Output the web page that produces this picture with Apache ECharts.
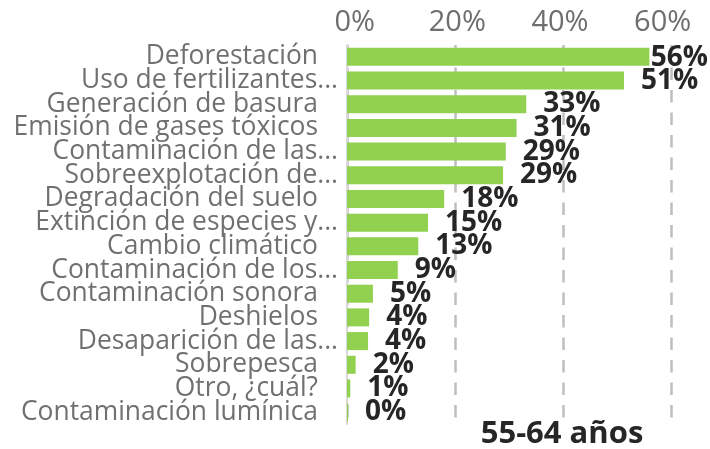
<!DOCTYPE html>
<html>
<head>
<meta charset="utf-8">
<script src="https://cdn.jsdelivr.net/npm/echarts@6/dist/echarts.min.js"></script>
<style>
html,body{margin:0;padding:0;background:#fff;}
#chart{width:710px;height:449px;}
</style>
</head>
<body>
<div id="chart"></div>
<script>
var categories = [
  "Deforestación",
  "Uso de fertilizantes...",
  "Generación de basura",
  "Emisión de gases tóxicos",
  "Contaminación de las...",
  "Sobreexplotación de...",
  "Degradación del suelo",
  "Extinción de especies y...",
  "Cambio climático",
  "Contaminación de los...",
  "Contaminación sonora",
  "Deshielos",
  "Desaparición de las...",
  "Sobrepesca",
  "Otro, ¿cuál?",
  "Contaminación lumínica"
];
var values = [56.0, 51.3, 33.2, 31.4, 29.4, 28.9, 18.0, 15.0, 13.2, 9.4, 4.8, 4.1, 3.9, 1.6, 0.6, 0.2];
var tickValues = [0, 20, 40, 60];
var seriesTitle = "55-64 años";

var FONT = "'Open Sans', 'Noto Sans', sans-serif";
var chart = echarts.init(document.getElementById('chart'), null, {renderer: 'canvas'});
chart.setOption({
  animation: false,
  backgroundColor: '#ffffff',
  title: {
    text: seriesTitle,
    left: 562,
    top: 419,
    padding: 0,
    textAlign: 'center',
    textStyle: {fontFamily: FONT, fontSize: 31, fontWeight: 'bold', color: '#262626'}
  },
  grid: {left: 347, right: 39, top: 45, bottom: 25, containLabel: false},
  xAxis: [{
    type: 'value',
    position: 'top',
    min: 0, max: 60, interval: 20,
    axisLine: {show: false},
    axisTick: {show: false},
    axisLabel: {show: false},
    splitLine: {show: true, lineStyle: {color: '#bfbfbf', width: 2.5, type: [12.5, 10]}}
  }, {
    type: 'value',
    position: 'top',
    min: -1.5, max: 61.62,
    axisLine: {show: false},
    axisTick: {show: false},
    splitLine: {show: false},
    axisLabel: {
      show: true,
      customValues: tickValues,
      margin: 8,
      fontFamily: FONT, fontSize: 29, color: '#6e6e6e',
      formatter: function (v) { return v + '%'; }
    }
  }],
  yAxis: {
    type: 'category',
    data: categories,
    inverse: true,
    axisLine: {show: true, lineStyle: {color: '#d9d9d9', width: 2}},
    axisTick: {show: false},
    splitLine: {show: false},
    axisLabel: {
      interval: 0,
      margin: 9,
      fontFamily: FONT, fontSize: 26.4, color: '#707070',
      formatter: function (v) {
        return /\.\.\.$/.test(v) ? '{t|' + v + '}' : '{p|' + v + '}';
      },
      rich: {
        t: {fontFamily: FONT, fontSize: 26.4, color: '#707070'},
        p: {fontFamily: FONT, fontSize: 26.4, color: '#707070', padding: [0, 20, 0, 0]}
      }
    }
  },
  series: [{
    type: 'bar',
    xAxisIndex: 0,
    data: values,
    barCategoryGap: '24%',
    itemStyle: {color: '#92d050'},
    label: {
      show: true,
      position: 'right',
      distance: 17,
      offset: [0, 2.5],
      fontFamily: FONT, fontSize: 28, fontWeight: 'bold', color: '#262626',
      formatter: function (p) { return Math.round(p.value) + '%'; }
    }
  }],
  labelLayout: function (p) {
    var r = p.labelRect;
    if (r.x + r.width > 708) {
      return {x: 708 - r.width, y: r.y - 1.5, align: 'left', verticalAlign: 'top'};
    }
  }
});
</script>
</body>
</html>
